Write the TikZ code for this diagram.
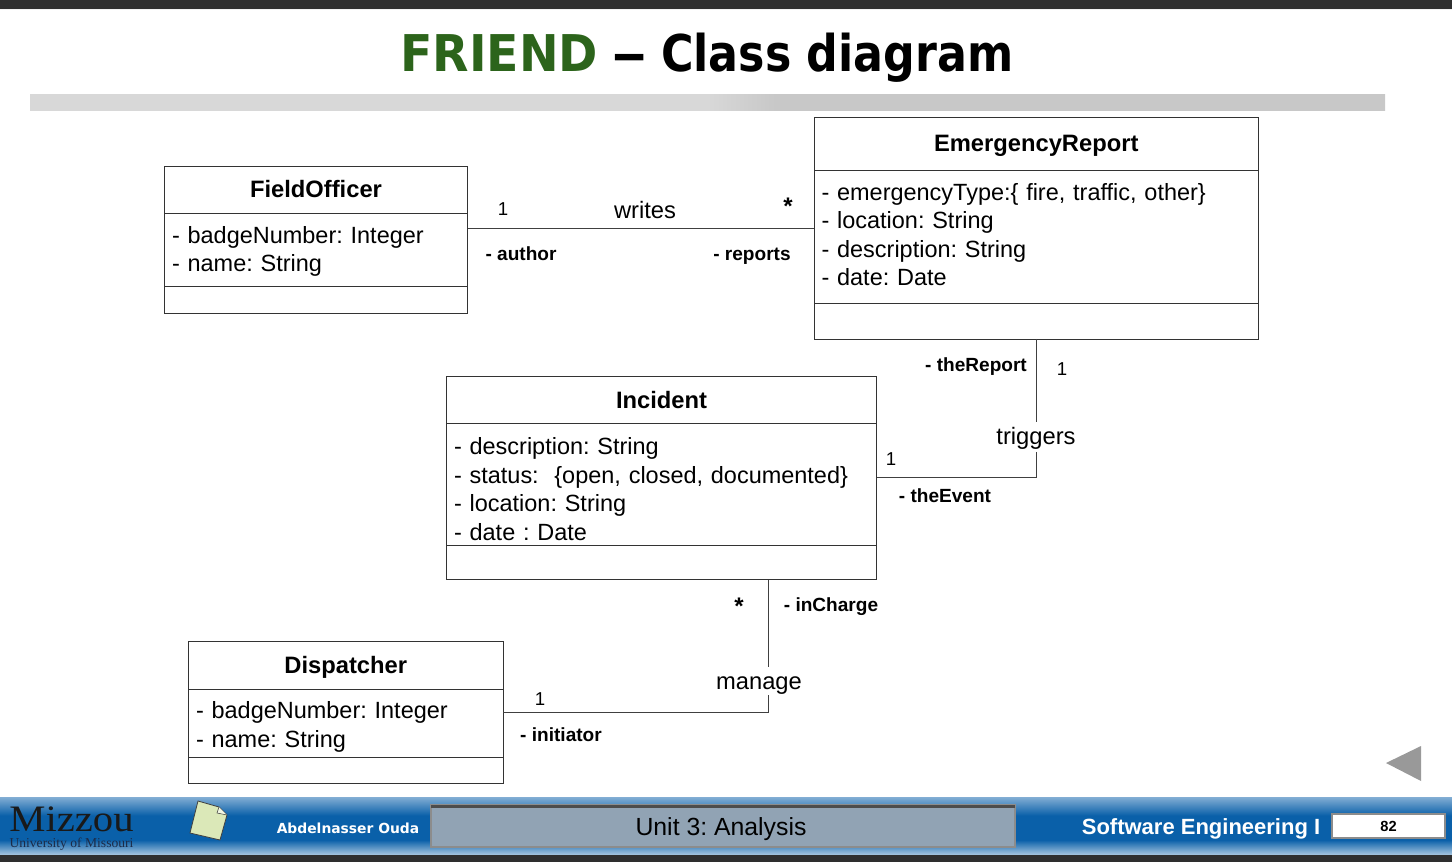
\documentclass[tikz,border=0pt]{standalone}
\usepackage{fontspec}
\setmainfont{Liberation Sans}
\newfontfamily\titlefont{DejaVu Sans}
\newfontfamily\serifont{Liberation Serif}
\usepackage{xcolor}
\usepackage{graphicx}
\usetikzlibrary{positioning,calc}

\newcommand{\px}{0.75pt}
\newcommand{\txtdown}[1]{\rule{0pt}{#1pt}}
\newcommand{\txtup}[1]{\rule[-#1pt]{0pt}{#1pt}}
\definecolor{friendgreen}{HTML}{2C641B}
\definecolor{unitgrey}{HTML}{91A3B4}
\definecolor{notegreen}{HTML}{DBE8B8}
\definecolor{footblue}{HTML}{0A60A9}
\definecolor{foottop}{HTML}{83AED4}
\definecolor{footlow}{HTML}{A9C7E0}
\definecolor{mizzouink}{HTML}{1C2B48}
\definecolor{barlight}{HTML}{D8D8D8}
\definecolor{bardark}{HTML}{C8C8C8}
\pgfdeclareverticalshading{footbar}{100bp}{color(0bp)=(footlow); color(25bp)=(footlow); color(38bp)=(footblue); color(59bp)=(footblue); color(75bp)=(foottop); color(100bp)=(foottop)}
\pgfdeclarehorizontalshading{rulebar}{100bp}{color(0bp)=(barlight); color(50bp)=(barlight); color(52.5bp)=(bardark); color(100bp)=(bardark)}

\begin{document}
\frenchspacing
\begin{tikzpicture}[
    x=0.75pt, y=-0.75pt,
    classhead/.style 2 args={rectangle, draw=black!80, line width=0.6pt, outer sep=0pt, inner xsep=7.5*\px, inner ysep=0pt, minimum width=#1*\px, minimum height=#2*\px, align=center, font=\fontsize{17.8}{21.4}\selectfont\bfseries},
    classbody/.style 2 args={rectangle, draw=black!80, line width=0.6pt, outer sep=0pt, inner xsep=7.5*\px, inner ysep=0pt, text width=(#1-15)*\px, minimum height=#2*\px, align=left, font=\fontsize{17.6}{21.4}\selectfont},
    assoc/.style={font=\fontsize{17.8}{21.4}\selectfont, inner sep=0pt},
    role/.style={font=\fontsize{14.3}{17}\selectfont\bfseries, inner sep=0pt},
    mult/.style={font=\fontsize{14}{17}\selectfont, inner sep=0pt},
    star/.style={font=\fontsize{18}{20}\selectfont\bfseries, inner sep=0pt},
    link/.style={draw=black!75, line width=0.6pt}
]
\useasboundingbox (0,0) rectangle (1452,862);

% slide frame
\fill[black!82] (0,0) rectangle (1452,9);
\fill[black!6] (0,9) rectangle (1452,10);
\node[font=\titlefont\fontsize{38}{44}\selectfont\bfseries, inner sep=0pt] (title) at (707,58) {\scalebox{0.935}[1]{\textcolor{friendgreen}{FRIEND}}\hspace{10pt}\scalebox{1.43}[1]{–}\hspace{10pt}\scalebox{0.875}[1]{Class diagram}};
\shade[shading=rulebar] (30,94.5) rectangle (1385,111);

% classes
\node[classhead={303}{47}, anchor=north west] (fohead) at (164.5,166) {FieldOfficer};
\node[classbody={303}{73}, below=0pt of fohead] (foattr) {\txtdown{16}- badgeNumber: Integer\\- name: String};
\node[classbody={303}{27}, below=0pt of foattr] (foops) {};

\node[classhead={444.5}{53}, anchor=north west] (erhead) at (814,117) {\txtdown{16}EmergencyReport};
\node[classbody={444.5}{133}, below=0pt of erhead] (erattr) {- emergencyType:\{ fire, traffic, other\}\\- location: String\\- description: String\\- date: Date\txtup{3}};
\node[classbody={444.5}{36}, below=0pt of erattr] (erops) {};

\node[classhead={430}{47}, anchor=north west] (inhead) at (446.5,376.5) {Incident};
\node[classbody={430}{122}, below=0pt of inhead] (inattr) {\txtdown{20}- description: String\\- status:\ \ \{open, closed, documented\}\\- location: String\\- date : Date};
\node[classbody={430}{34}, below=0pt of inattr] (inops) {};

\node[classhead={314.5}{48}, anchor=north west] (dihead) at (188.5,641.5) {\txtdown{16}Dispatcher};
\node[classbody={314.5}{68}, below=0pt of dihead] (diattr) {\txtdown{18}- badgeNumber: Integer\\- name: String};
\node[classbody={314.5}{26}, below=0pt of diattr] (diops) {};

% associations
\node[assoc] (writes) at (645,210) {writes};
\node[assoc] (triggers) at (1036,438) {triggers};
\node[assoc] (manage) at (759,686) {manage};
\coordinate (writesA) at (467.5,228);
\coordinate (writesB) at (814,228);
\coordinate (trigA) at (876.5,477);
\coordinate (trigB) at (1036.25,477);
\coordinate (trigC) at (1036.25,452);
\coordinate (trigD) at (1036.25,422);
\coordinate (manA) at (768.5,579.5);
\coordinate (manB) at (768.5,667);
\coordinate (manC) at (768.5,695);
\coordinate (manD) at (768.5,712.5);
\coordinate (manE) at (503,712.5);

\draw[link] (writesA) -- (writesB);
\draw[link] (erops.south) -- (trigD);
\draw[link] (trigC) -- (trigB) -- (trigA);
\draw[link] (manA) -- (manB);
\draw[link] (manC) -- (manD) -- (manE);

\node[mult] (m1) at (503,209) {1};
\node[star] (m2) at (788,206) {*};
\node[role] (r1) at (521,254) {- author};
\node[role] (r2) at (752,256) {- reports};
\node[role] (r3) at (976,367) {- theReport};
\node[mult] (m3) at (1062,369) {1};
\node[mult] (m4) at (891,459) {1};
\node[role] (r4) at (945,496) {- theEvent};
\node[star] (m5) at (739,606) {*};
\node[role] (r5) at (831,607) {- inCharge};
\node[mult] (m6) at (540,699) {1};
\node[role] (r6) at (561,735) {- initiator};

% back button
\fill[black!40] (1386,763) -- (1421,746) -- (1421,781) -- cycle;

% footer
\shade[shading=footbar] (0,797) rectangle (1452,855);
\fill[black!82] (0,855) rectangle (1452,862);
\node[font=\serifont\fontsize{28}{29}\selectfont, text=black!90, inner sep=0pt] (mizzou) at (71.5,819) {\scalebox{1.09}[1]{Mizzou}};
\node[font=\serifont\fontsize{10.2}{11}\selectfont, text=mizzouink, inner sep=0pt] (mu) at (71.5,844.5) {University of Missouri};
\draw[draw=black!75, fill=notegreen, line width=0.6pt] (198,801) -- (219,807) -- (227,815) -- (220,840) -- (190,833) -- cycle;
\draw[draw=black!75, fill=white!60!notegreen, line width=0.4pt] (219,807) -- (217,813) -- (227,815);
\node[font=\titlefont\fontsize{10.4}{12}\selectfont\bfseries, text=white, inner sep=0pt] (author) at (348,828) {Abdelnasser Ouda};
\node[draw=black!45, line width=0.8pt, fill=unitgrey, minimum width=584*\px, minimum height=42*\px, inner sep=0pt, outer sep=0pt] (unit) at (723,826) {};
\fill[black!70] (unit.north west) rectangle ($(unit.north east)+(0,3)$);
\node[font=\fontsize{18.6}{22}\selectfont, inner sep=0pt] (unitname) at (721,829) {Unit 3: Analysis};
\node[font=\fontsize{16.5}{20}\selectfont\bfseries, text=white, inner sep=0pt] (course) at (1201,829) {Software Engineering I};
\node[draw=black!45, line width=0.8pt, fill=white, minimum width=113*\px, minimum height=24*\px, inner sep=0pt, font=\fontsize{11}{13}\selectfont\bfseries] (page) at (1388.5,826) {82};
\end{tikzpicture}
\end{document}
